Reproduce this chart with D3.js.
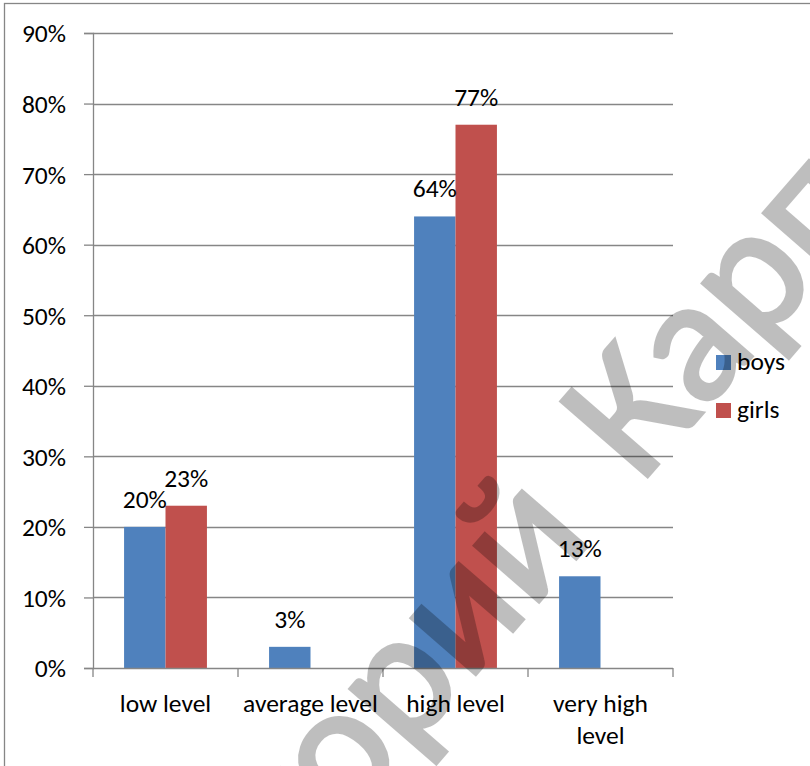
<!DOCTYPE html>
<html>
<head>
<meta charset="utf-8">
<script src="https://cdn.jsdelivr.net/npm/d3@7"></script>
<style>
  body { margin: 0; background: #fff; }
  text { font-family: Carlito, Lato, sans-serif; fill: #000; }
</style>
</head>
<body>
<svg></svg>
<script>
// grouped bar chart, boys vs girls per level

var categories = ['low level', 'average level', 'high level', 'very high level'];
var seriesNames = ['boys', 'girls'];
var boys = [0.20, 0.03, 0.64, 0.13];
var girls = [0.23, null, 0.77, null]; // no girls bar for average / very high
var yTicks = [0, 0.1, 0.2, 0.3, 0.4, 0.5, 0.6, 0.7, 0.8, 0.9];
var colors = ['#4f81bd', '#c0504d'];

var svgWidth = 810, svgHeight = 766;
var plotLeft = 93, plotRight = 673, plotTop = 33, plotBottom = 668;
var gridColor = '#868686';
var fontSize = 25.5;

var svg = d3.select('svg')
    .attr('width', svgWidth)
    .attr('height', svgHeight);

// outer chart border (right / bottom edges run off the page)
svg.append('rect')
    .attr('x', 4.5).attr('y', 3.5)
    .attr('width', 840).attr('height', 820)
    .attr('fill', '#fff')
    .attr('stroke', gridColor)
    .attr('stroke-width', 1.3);

var yScale = d3.scaleLinear()
    .domain([0, 0.9])
    .range([plotBottom, plotTop]);

var x0 = d3.scaleBand()
    .domain(categories)
    .range([plotLeft, plotRight])
    .padding(0);

var x1 = d3.scaleBand()
    .domain(seriesNames)
    .range([0, x0.bandwidth()])
    .paddingInner(0)
    .paddingOuter(0.75);

// gridlines
svg.append('g')
    .selectAll('line')
    .data(yTicks.filter(function(d) { return d > 0; }))
    .enter()
    .append('line')
    .attr('x1', plotLeft).attr('x2', plotRight)
    .attr('y1', function(d) { return Math.round(yScale(d)) + 0.5; })
    .attr('y2', function(d) { return Math.round(yScale(d)) + 0.5; })
    .attr('stroke', gridColor)
    .attr('stroke-width', 1.3);

// y axis
var yAxis = d3.axisLeft(yScale)
    .tickValues(yTicks)
    .tickFormat(d3.format('.0%'))
    .tickSize(9)
    .tickPadding(18);

var gy = svg.append('g')
    .attr('transform', 'translate(' + plotLeft + ',0)')
    .call(yAxis);
gy.select('.domain').attr('stroke', gridColor).attr('stroke-width', 1.3);
gy.selectAll('.tick line').attr('stroke', gridColor).attr('stroke-width', 1.3);
gy.selectAll('.tick text')
    .attr('font-size', fontSize)
    .attr('font-family', 'Carlito, Lato, sans-serif')
    .attr('dy', '0.35em');

// bars
var rows = categories.map(function(c, i) {
    return { cat: c, values: [{ key: 'boys', v: boys[i] }, { key: 'girls', v: girls[i] }] };
});

var groups = svg.selectAll('.group')
    .data(rows)
    .enter()
    .append('g')
    .attr('class', 'group')
    .attr('transform', function(d) { return 'translate(' + x0(d.cat) + ',0)'; });

groups.selectAll('rect')
    .data(function(d) { return d.values.filter(function(e) { return e.v != null; }); })
    .enter()
    .append('rect')
    .attr('x', function(d) { return x1(d.key); })
    .attr('width', x1.bandwidth())
    .attr('y', function(d) { return yScale(d.v); })
    .attr('height', function(d) { return plotBottom - yScale(d.v); })
    .attr('fill', function(d) { return colors[seriesNames.indexOf(d.key)]; });

groups.selectAll('text')
    .data(function(d) { return d.values.filter(function(e) { return e.v != null; }); })
    .enter()
    .append('text')
    .attr('x', function(d) { return x1(d.key) + x1.bandwidth() / 2; })
    .attr('y', function(d) { return yScale(d.v) - 19; })
    .attr('text-anchor', 'middle')
    .attr('font-size', fontSize)
    .text(function(d) { return d3.format('.0%')(d.v); });

// x axis line + boundary ticks
svg.append('line')
    .attr('x1', plotLeft).attr('x2', plotRight)
    .attr('y1', plotBottom + 0.5).attr('y2', plotBottom + 0.5)
    .attr('stroke', gridColor).attr('stroke-width', 1.3);

var bounds = categories.map(function(c) { return x0(c); }).concat([plotRight]);
svg.append('g')
    .selectAll('line')
    .data(bounds)
    .enter()
    .append('line')
    .attr('x1', function(d) { return d; }).attr('x2', function(d) { return d; })
    .attr('y1', plotBottom).attr('y2', plotBottom + 9)
    .attr('stroke', gridColor).attr('stroke-width', 1.3);

// category labels, wrapped when wider than a band
var catLabels = svg.append('g')
    .selectAll('text')
    .data(categories)
    .enter()
    .append('text')
    .attr('text-anchor', 'middle')
    .attr('font-size', fontSize)
    .attr('x', function(d) { return x0(d) + x0.bandwidth() / 2; })
    .attr('y', 712)
    .text(function(d) { return d; });

catLabels.each(function(d) {
    var t = d3.select(this);
    if (this.getComputedTextLength() <= x0.bandwidth() - 4) return;
    var words = d.split(' ');
    var last = words.pop();
    var cx = t.attr('x');
    t.text(null);
    t.append('tspan').attr('x', cx).text(words.join(' '));
    t.append('tspan').attr('x', cx).attr('dy', 32).text(last);
});

// legend
var legend = svg.selectAll('.legend')
    .data(seriesNames)
    .enter()
    .append('g')
    .attr('class', 'legend')
    .attr('transform', function(d, i) { return 'translate(716,' + (355 + i * 48) + ')'; });

legend.append('rect')
    .attr('width', 15).attr('height', 15)
    .attr('fill', function(d, i) { return colors[i]; });

legend.append('text')
    .attr('x', 21).attr('y', 15)
    .attr('font-size', fontSize)
    .text(function(d) { return d; });

// watermark
var wm = svg.append('g')
    .attr('transform', 'translate(640,485) rotate(-49)')
    .attr('opacity', 0.25);
wm.append('text')
    .attr('x', 0)
    .attr('font-family', 'Liberation Sans, Arial, sans-serif')
    .attr('font-size', 178)
    .attr('fill', '#000')
    .attr('stroke', '#000')
    .attr('stroke-width', 4)
    .text('Карпов');
wm.append('text')
    .attr('x', -70)
    .attr('text-anchor', 'end')
    .attr('font-family', 'Liberation Sans, Arial, sans-serif')
    .attr('font-size', 178)
    .attr('fill', '#000')
    .attr('stroke', '#000')
    .attr('stroke-width', 4)
    .text('Викторий');
</script>
</body>
</html>
